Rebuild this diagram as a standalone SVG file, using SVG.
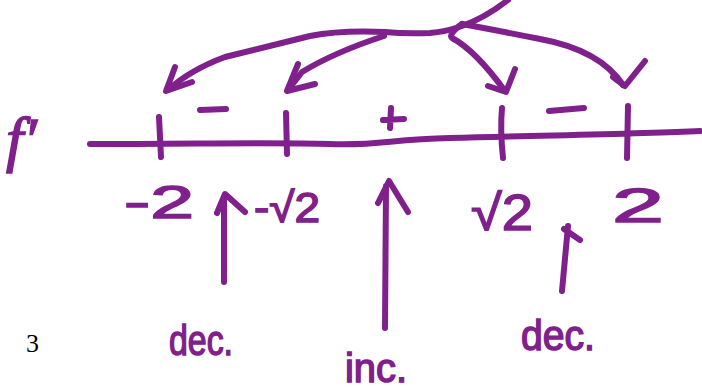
<svg xmlns="http://www.w3.org/2000/svg" width="702" height="389" viewBox="0 0 702 389">
<style>
.ink{fill:none;stroke:#80208c;stroke-width:6;stroke-linecap:round;stroke-linejoin:round}
.lbl{fill:#80208c;font-family:"Liberation Sans",Arial,sans-serif;stroke:#80208c;stroke-width:1.5}
</style>
<rect width="702" height="389" fill="#fff"/>
<g id="fprime"><text x="6" y="160" class="lbl" style="font-family:'Liberation Serif',serif;font-style:italic" font-size="62">f′</text></g>
<g id="axis">
<path class="ink" d="M90 144 C200 144 270 142 330 144 C380 146 390 139 450 138 C560 135 640 134 700 131"/>
<path class="ink" d="M159 117 L161 157"/>
<path class="ink" d="M286 113 L287 154"/>
<path class="ink" d="M502 108 Q500 130 503 158"/>
<path class="ink" d="M628 106 L627 158"/>
</g>
<g id="signs">
<path class="ink" d="M200 110 L226 109"/>
<path class="ink" d="M383 120 L404 119 M391 108 L390 128"/>
<path class="ink" d="M549 111 L584 108"/>
</g>
<g id="connectors">
<path class="ink" d="M508 0 Q485 18 462 26 Q445 32 430 33 Q405 34 385 32 Q340 30 310 36 Q270 46 225 57 Q190 70 168 90"/>
<path class="ink" d="M175 67 L166 91 L192 82"/>
<path class="ink" d="M384 36 Q335 52 302 72 L288 90"/>
<path class="ink" d="M298 64 L287 91 L315 84"/>
<path class="ink" d="M462 24 Q448 34 452 38 Q475 50 505 91"/>
<path class="ink" d="M515 69 L506 92 L488 86"/>
<path class="ink" d="M462 24 Q495 30 540 39 Q600 50 623 85"/>
<path class="ink" d="M645 61 L625 86 L613 77"/>
</g>
<g id="labels">
<text x="124" y="218" class="lbl" font-size="46" textLength="70" lengthAdjust="spacingAndGlyphs">-2</text>
<text x="254" y="222" class="lbl" font-size="42" textLength="66" lengthAdjust="spacingAndGlyphs">-√2</text>
<text x="471" y="230" class="lbl" font-size="50" textLength="62" lengthAdjust="spacingAndGlyphs">√2</text>
<text x="612" y="222" class="lbl" font-size="48" textLength="52" lengthAdjust="spacingAndGlyphs">2</text>
</g>
<g id="arrows-up">
<path class="ink" d="M224 282 L224 197 M217 213 L225 194 L245 212"/>
<path class="ink" d="M385 328 L386 186 M378 203 L389 181 L408 212"/>
<path class="ink" d="M562 291 L568 226 M564 229 L580 240"/>
</g>
<g id="words">
<text x="169" y="355" class="lbl" font-size="42" textLength="64" lengthAdjust="spacingAndGlyphs">dec.</text>
<text x="345" y="382" class="lbl" font-size="40" textLength="62" lengthAdjust="spacingAndGlyphs">inc.</text>
<text x="521" y="350" class="lbl" font-size="42" textLength="74" lengthAdjust="spacingAndGlyphs">dec.</text>
<text x="26" y="352" font-family="Liberation Serif,serif" font-size="26" fill="#000">3</text>
</g>
</svg>
